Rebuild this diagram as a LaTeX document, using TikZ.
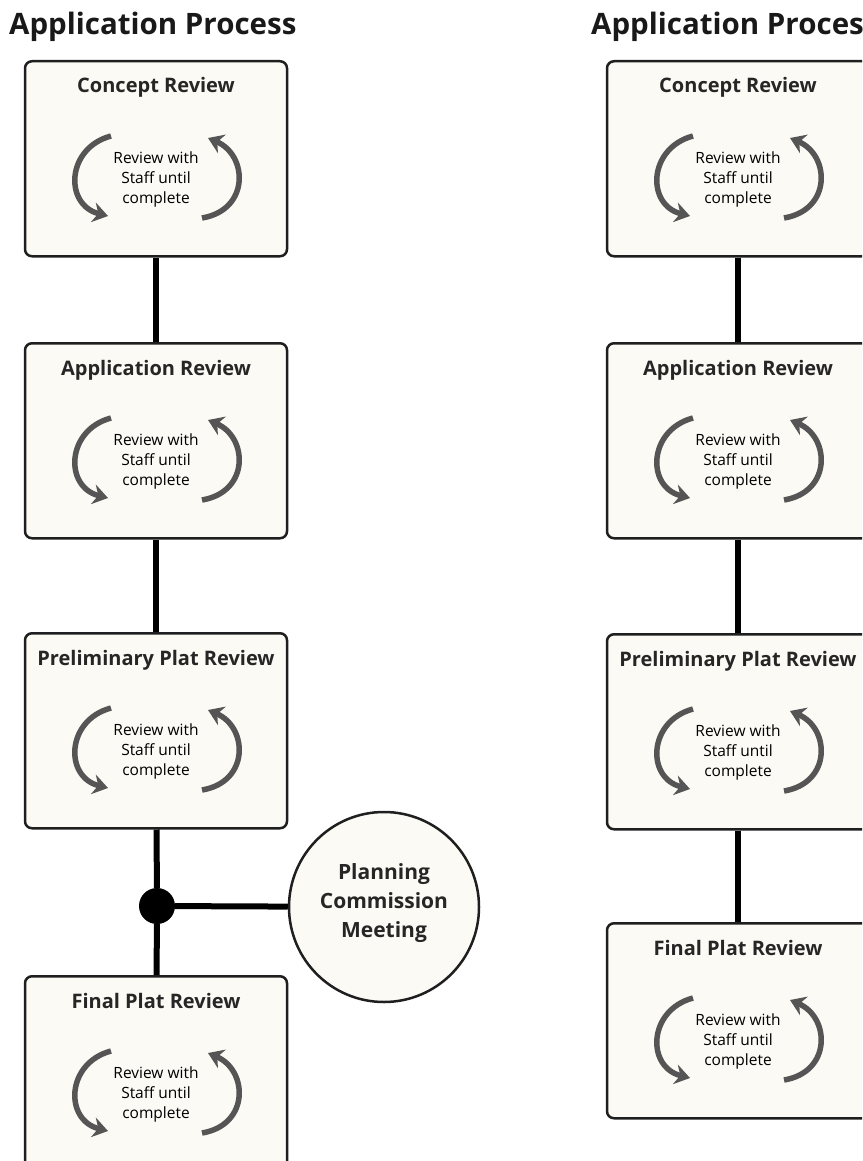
\documentclass[tikz,border=0pt]{standalone}
\usepackage{fontspec}
\setmainfont{Open Sans}
\usetikzlibrary{arrows.meta}
\definecolor{boxfill}{HTML}{FBFAF4}
\definecolor{loopgray}{HTML}{555555}
\newcommand\stagebox[4]{%
  \node[stagerect] (#1) at (#2,#3) {};
  \node[stagetitle] (#1t) at (#2,#3+33) {#4};
  \node[looptext] (#1l) at (#2,#3+119) {Review with\\Staff until\\complete};
  \draw[looparrow] (#2-45,#3+76) .. controls (#2-90,#3+88) and (#2-92,#3+145) .. (#2-48,#3+156);
  \draw[looparrow] (#2+46,#3+158) .. controls (#2+94,#3+150) and (#2+92,#3+95) .. (#2+52,#3+78);
}
\begin{document}
\begin{tikzpicture}[x=1pt,y=-1pt,
  stagerect/.style={draw=black!88, line width=2.5pt, rounded corners=7pt, fill=boxfill,
    minimum width=262pt, minimum height=195pt, anchor=north, inner sep=0pt},
  stagetitle/.style={font=\fontsize{20}{22}\selectfont\bfseries, text=black!85, inner sep=0pt, anchor=base},
  looptext/.style={font=\fontsize{15.5}{20}\selectfont, align=center, text=black, inner sep=0pt},
  looparrow/.style={draw=loopgray, line width=5.5pt, -{Stealth[length=15pt,width=20pt,inset=5pt]}},
  link/.style={line width=6pt, draw=black},
  heading/.style={font=\fontsize{29.5}{32}\selectfont\bfseries, text=black!90, inner sep=0pt, anchor=base west},
  junction/.style={circle, fill=black, minimum size=36pt, inner sep=0pt},
  meeting/.style={circle, draw=black!88, line width=2.5pt, fill=boxfill, minimum size=190pt, inner sep=0pt},
  meetingtext/.style={font=\fontsize{21}{29}\selectfont\bfseries, align=center, text=black!85, inner sep=0pt}]
\useasboundingbox (0,0) rectangle (862,1161);
\clip (0,0) rectangle (862,1161);
% headings
\node[heading] (h1) at (9,35) {Application Process};
\node[heading] (h2) at (591,35) {Application Process};
% left column
\stagebox{a1}{156}{60}{Concept Review}
\stagebox{a2}{156}{342}{Application Review}
\stagebox{a3}{156}{632}{Preliminary Plat Review}
\stagebox{a4}{156}{975}{Final Plat Review}
\node[junction] (jn) at (157,906) {};
\node[meeting] (pcm) at (384,907) {};
\node[meetingtext] (pcmt) at (384,903) {Planning\\Commission\\Meeting};
\draw[link] (a1) -- (a2);
\draw[link] (a2) -- (a3);
\draw[link] (a3) -- (jn);
\draw[link] (jn) -- (a4);
\draw[link] (jn) -- (pcm);
% right column
\stagebox{b1}{738}{60}{Concept Review}
\stagebox{b2}{738}{342}{Application Review}
\stagebox{b3}{738}{633}{Preliminary Plat Review}
\stagebox{b4}{738}{922}{Final Plat Review}
\draw[link] (b1) -- (b2);
\draw[link] (b2) -- (b3);
\draw[link] (b3) -- (b4);
\end{tikzpicture}
\end{document}
